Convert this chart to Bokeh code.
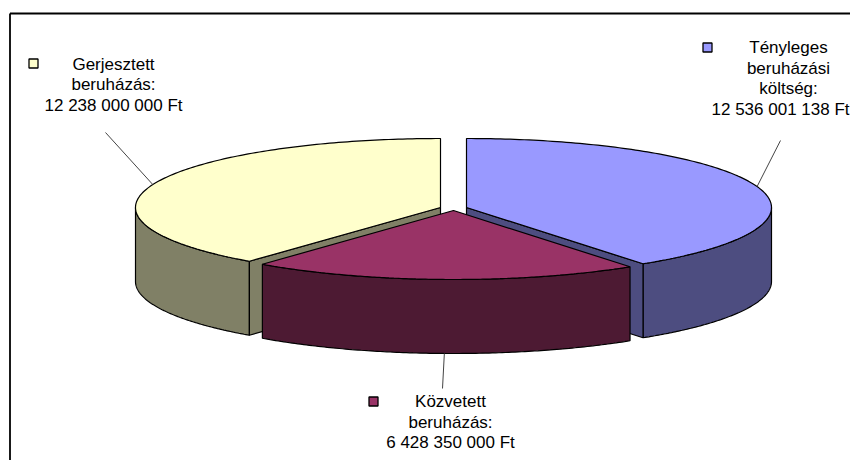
import numpy as np
from bokeh.plotting import figure
from bokeh.models import Range1d
from bokeh.core.properties import value
from bokeh.embed import file_html
from bokeh.resources import INLINE

values = [12536001138, 6428350000, 12238000000]
label_lines = [
    ["Tényleges", "beruházási", "költség:", "12 536 001 138 Ft"],
    ["Közvetett", "beruházás:", "6 428 350 000 Ft"],
    ["Gerjesztett", "beruházás:", "12 238 000 000 Ft"],
]
top_colors = ["#9999FF", "#993366", "#FFFFCC"]
side_colors = ["#4D4D80", "#4D1A33", "#808066"]

# layout (style) constants, in reference pixels
centers = [(466, 207), (453, 210), (440, 207)]
RX, RY, DEPTH = 305, 69, 74
label_pos = [(788, 47), (450, 401), (113, 63.5)]
key_pos = [(707, 47), (373, 401), (33, 63)]
leader_end = [(780, 140), (442, 388), (105, 132)]
LINE_H = 20.7
RIGHT_EDGE = 849
CHAR_HALF_WIDTH = 69  # half width of the longest label line, keeps it inside the page
FONT = value("Liberation Sans")

p = figure(width=850, height=460, output_backend="svg", toolbar_location=None,
           x_range=Range1d(0, 850), y_range=Range1d(460, 0), min_border=0)
p.axis.visible = False
p.grid.visible = False
p.outline_line_color = None

# chart border
p.line([9.5, 9.5], [13, 460], line_color="black", line_width=1.8)
p.line([9.5, 850], [13, 13], line_color="black", line_width=1.8)

fracs = np.array(values, dtype=float) / sum(values)
edges = np.concatenate([[0], np.cumsum(fracs)]) * 2 * np.pi


def rim(c, t):
    return c[0] + RX * np.sin(t), c[1] - RY * np.cos(t)


def wall(c, t):
    x, y = rim(c, t)
    return np.concatenate([x, x[::-1]]), np.concatenate([y, y[::-1] + DEPTH])


for i in [0, 2, 1]:
    c = centers[i]
    t0, t1 = edges[i], edges[i + 1]
    t = np.linspace(t0, t1, 160)
    # front outer wall: only the part of the rim facing the viewer
    lo, hi = max(t0, np.pi / 2), min(t1, 3 * np.pi / 2)
    if hi > lo:
        xs, ys = wall(c, np.linspace(lo, hi, 120))
        p.patch(xs, ys, fill_color=side_colors[i], line_color="black", line_width=1.2)
    # visible cut face
    cut = {0: t1, 2: t0}.get(i)
    if cut is not None:
        rx_, ry_ = rim(c, np.array([cut]))
        p.patch([c[0], rx_[0], rx_[0], c[0]], [c[1], ry_[0], ry_[0] + DEPTH, c[1] + DEPTH],
                fill_color=side_colors[i], line_color="black", line_width=1.2)
    # top
    x, y = rim(c, t)
    p.patch(np.concatenate([[c[0]], x]), np.concatenate([[c[1]], y]),
            fill_color=top_colors[i], line_color="black", line_width=1.2)
    # leader line from the middle of the slice's rim
    mid = (t0 + t1) / 2
    mx, my = rim(c, np.array([mid]))
    if np.cos(mid) < 0 and abs(np.sin(mid)) < 0.5:
        my = my + DEPTH
    lx, ly = leader_end[i]
    p.line([mx[0], lx], [my[0], ly], line_color="#444444", line_width=1)
    # key
    kx, ky = key_pos[i]
    p.scatter([kx], [ky], marker="square", size=9, fill_color=top_colors[i],
              line_color="black", line_width=1.3)
    # label
    tx, ty = label_pos[i]
    for j, s in enumerate(label_lines[i]):
        line_x = min(tx, RIGHT_EDGE - CHAR_HALF_WIDTH) if len(s) > 12 else tx
        p.text([line_x], [ty + j * LINE_H], text=[s], text_font=FONT, text_font_size="17px",
               text_align="center", text_baseline="middle", text_color="#000000")

open("out.html", "w").write(file_html(p, INLINE))
